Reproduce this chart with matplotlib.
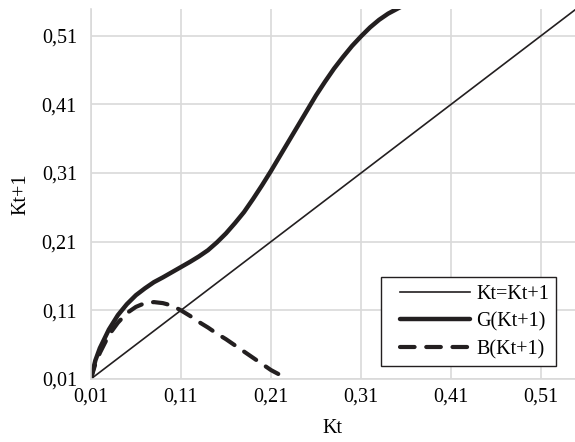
import matplotlib
matplotlib.use("Agg")
import matplotlib.pyplot as plt

# identity line Kt=Kt+1
kt_id = [0.01, 0.55]
# G(Kt+1)
kt_g = [0.01, 0.015, 0.02, 0.03, 0.04, 0.05, 0.06, 0.07, 0.08, 0.09, 0.10,
        0.11, 0.12, 0.13, 0.14, 0.15, 0.16, 0.17, 0.18, 0.19, 0.20, 0.21,
        0.22, 0.23, 0.24, 0.25, 0.26, 0.27, 0.28, 0.29, 0.30, 0.31, 0.32,
        0.33, 0.34, 0.35, 0.36]
g_vals = [0.01, 0.037, 0.055, 0.082, 0.103, 0.119, 0.132, 0.142, 0.151,
          0.158, 0.1655, 0.173, 0.1805, 0.1885, 0.1975, 0.209, 0.222, 0.237,
          0.253, 0.272, 0.292, 0.313, 0.335, 0.357, 0.379, 0.401, 0.423,
          0.443, 0.462, 0.479, 0.495, 0.509, 0.522, 0.533, 0.542, 0.549,
          0.556]
# B(Kt+1)
kt_b = [0.01, 0.015, 0.02, 0.03, 0.04, 0.05, 0.06, 0.07, 0.08, 0.09, 0.10,
        0.11, 0.12, 0.13, 0.14, 0.15, 0.16, 0.17, 0.18, 0.19, 0.20, 0.21,
        0.22, 0.226]
b_vals = [0.01, 0.032, 0.048, 0.074, 0.092, 0.106, 0.115, 0.1205, 0.122,
          0.1205, 0.117, 0.110, 0.102, 0.093, 0.085, 0.076, 0.068, 0.059,
          0.050, 0.041, 0.032, 0.023, 0.016, 0.013]

ticks = [0.01, 0.11, 0.21, 0.31, 0.41, 0.51]
tick_labels = ["0,01", "0,11", "0,21", "0,31", "0,41", "0,51"]

plt.rcParams['font.family'] = ['Liberation Serif', 'DejaVu Serif']
fs = 14.5
ink = '#231f20'
gridc = '#d9d9d9'

fig = plt.figure(figsize=(5.75, 4.42), dpi=100)
ax = fig.add_axes([0.158, 0.1425, 0.842, 0.8375])

ax.plot(kt_id, kt_id, color=ink, linewidth=1.2, label="Kt=Kt+1")
ax.plot(kt_g, g_vals, color=ink, linewidth=3.2, label="G(Kt+1)",
        solid_capstyle='round', solid_joinstyle='round')
ax.plot(kt_b, b_vals, color=ink, linewidth=3.0, label="B(Kt+1)",
        linestyle=(0, (3.5, 2.8)), dash_capstyle='round')

ax.set_xlim(0.01, 0.5475)
ax.set_ylim(0.01, 0.549)
ax.set_xticks(ticks)
ax.set_xticklabels(tick_labels, fontsize=fs)
ax.set_yticks(ticks)
ax.set_yticklabels(tick_labels, fontsize=fs)
ax.tick_params(axis='y', length=0, pad=10)
ax.tick_params(axis='x', length=0, pad=6)
ax.grid(True, color=gridc, linewidth=1.2)
ax.set_axisbelow(True)
for s in ['top', 'right']:
    ax.spines[s].set_visible(False)
for s in ['left', 'bottom']:
    ax.spines[s].set_color(gridc)
    ax.spines[s].set_linewidth(1.2)

ax.set_xlabel("Kt", fontsize=fs, labelpad=9)
ax.set_ylabel("Kt+1", fontsize=fs, labelpad=8)

leg = ax.legend(loc="lower right", bbox_to_anchor=(0.961, 0.035), fontsize=fs,
                fancybox=False, framealpha=1, edgecolor=ink, handlelength=4.1,
                handletextpad=0.3, borderpad=0.35, labelspacing=0.42,
                borderaxespad=0)
leg.get_frame().set_linewidth(1.0)
# handles in the reference start a bit inside the frame
for ln in leg.get_lines():
    xd = ln.get_xdata()
    yd = ln.get_ydata()
    ln.set_data([xd[0] + 0.15 * (xd[-1] - xd[0]), xd[-1]], [yd[0], yd[-1]])

fig.savefig("out.png", dpi=100)
